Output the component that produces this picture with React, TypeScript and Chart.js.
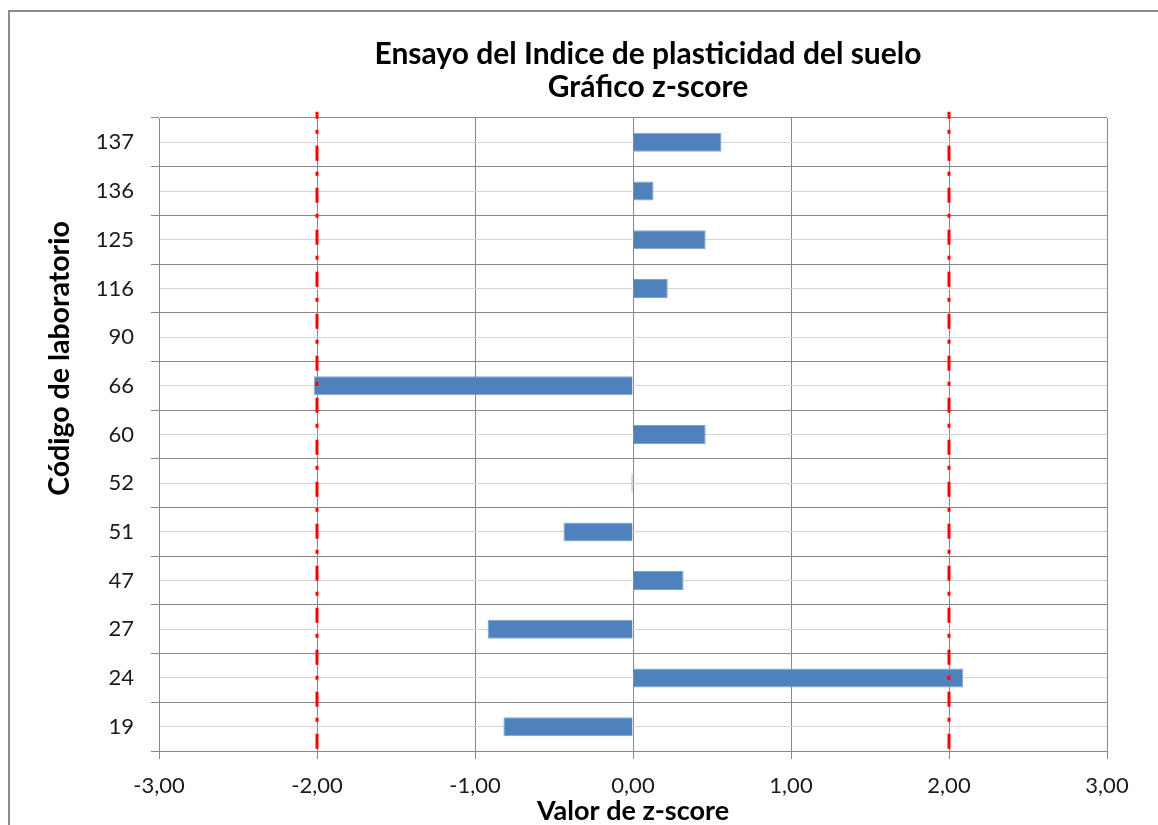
import React, { useEffect, useRef } from "react";
import { Chart, registerables } from "chart.js";

Chart.register(...registerables);

const titleLines = ["Ensayo del Indice de plasticidad del suelo", "Gráfico z-score"];
const yAxisTitle = "Código de laboratorio";
const xAxisTitle = "Valor de z-score";
const labCodes = ["137", "136", "125", "116", "90", "66", "60", "52", "51", "47", "27", "24", "19"];
const zScores = [0.56, 0.13, 0.46, 0.22, 0, -2.02, 0.46, -0.01, -0.44, 0.32, -0.92, 2.09, -0.82];
const limitLines = [-2, 2];
const xMin = -3;
const xMax = 3;
const xStep = 1;

const FONT = "Lato, 'Open Sans', sans-serif";
const CANVAS_W = 1280;
const CANVAS_H = 830;

const yTitlePlugin = {
  id: "yTitlePlugin",
  afterDraw(chart: any) {
    const { ctx, chartArea } = chart;
    ctx.save();
    ctx.font = `bold 28.5px ${FONT}`;
    ctx.fillStyle = "#000";
    ctx.textAlign = "center";
    ctx.textBaseline = "middle";
    const cx = chartArea.left - 99.5;
    const cy = chartArea.top + (chartArea.bottom - chartArea.top) * 0.38;
    ctx.translate(cx, cy);
    ctx.rotate(-Math.PI / 2);
    ctx.fillText(yAxisTitle, 0, 0);
    ctx.restore();
  },
};

export default function App() {
  const ref = useRef<HTMLCanvasElement>(null);
  useEffect(() => {
    if (!ref.current) return;
    const limitDatasets = limitLines.map((v) => ({
      type: "line" as const,
      data: [
        { x: v, y: 1.01 },
        { x: v, y: -0.01 },
      ],
      xAxisID: "x",
      yAxisID: "yr",
      borderColor: "#ff0000",
      borderWidth: 3,
      borderDash: [15, 11, 4, 12],
      borderDashOffset: 8,
      borderCapStyle: "butt" as const,
      pointRadius: 0,
      fill: false,
      clip: false as any,
      order: 0,
    }));
    const chart = new Chart(ref.current, {
      type: "bar",
      data: {
        labels: labCodes,
        datasets: [
          ...limitDatasets,
          {
            type: "bar" as const,
            data: zScores,
            xAxisID: "x",
            yAxisID: "y",
            indexAxis: "y" as const,
            backgroundColor: "#4f81bd",
            borderColor: "#7fa3d1",
            borderWidth: 1,
            barPercentage: 0.39,
            categoryPercentage: 1,
            order: 1,
          },
        ] as any,
      },
      options: {
        animation: false,
        responsive: false,
        maintainAspectRatio: false,
        layout: { padding: { top: 10, left: 0, right: 4, bottom: 0 } },
        plugins: {
          legend: { display: false },
          tooltip: { enabled: false },
          title: {
            display: true,
            text: titleLines,
            color: "#000",
            font: { family: FONT, size: 30, weight: "bold", lineHeight: "33px" as any },
            padding: { top: 16, bottom: 14 },
          },
        },
        scales: {
          x: {
            type: "linear",
            position: "bottom",
            min: xMin,
            max: xMax,
            offset: false,
            afterFit: (s: any) => {
              s.height = 91;
            },
            ticks: {
              stepSize: xStep,
              color: "#1a1a1a",
              font: { family: FONT, size: 22 },
              padding: 14,
              callback: (v: any) => Number(v).toFixed(2).replace(".", ","),
            },
            grid: { offset: false, color: "#888888", lineWidth: 1, drawTicks: true, tickLength: 8, tickColor: "#888888" },
            border: { color: "#888888", width: 1 },
            title: {
              display: true,
              text: xAxisTitle,
              color: "#000",
              font: { family: FONT, size: 27, weight: "bold" },
              padding: { top: 0, bottom: 14.5 },
            },
          },
          y: {
            type: "category",
            position: "left",
            offset: true,
            afterFit: (s: any) => {
              s.width = 149;
            },
            ticks: {
              color: "#1a1a1a",
              font: { family: FONT, size: 22 },
              padding: 17,
            },
            grid: { offset: true, color: "#888888", lineWidth: 1, drawTicks: true, tickLength: 8, tickColor: "#888888" },
            border: { color: "#888888", width: 1 },
          },
          y2: {
            type: "category",
            position: "right",
            labels: labCodes,
            offset: true,
            afterFit: (s: any) => {
              s.width = 179;
            },
            ticks: { display: false },
            grid: { offset: false, color: "#d4d4d4", lineWidth: 1, drawTicks: false },
            border: { display: false },
          },
          yr: {
            type: "linear",
            display: false,
            offset: false,
            min: 0,
            max: 1,
          },
        },
      },
      plugins: [yTitlePlugin],
    });
    return () => chart.destroy();
  }, []);

  return (
    <div style={{ position: "fixed", left: 0, top: 0, width: "100vw", height: "100vh", overflow: "hidden", background: "#fff" }}>
      <div
        style={{
          position: "absolute",
          left: 8,
          top: 10,
          border: "2px solid #8c8c8c",
          width: CANVAS_W,
          height: CANVAS_H,
          background: "#fff",
        }}
      >
        <canvas
          ref={ref}
          width={CANVAS_W}
          height={CANVAS_H}
          style={{ display: "block", width: CANVAS_W, height: CANVAS_H }}
        />
      </div>
    </div>
  );
}
